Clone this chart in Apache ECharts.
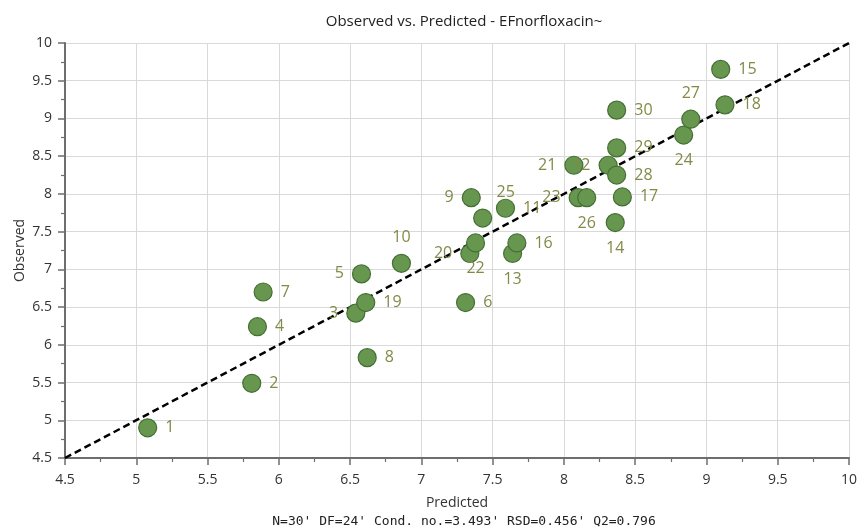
<!DOCTYPE html>
<html><head><meta charset="utf-8">
<script src="https://cdn.jsdelivr.net/npm/echarts@6/dist/echarts.min.js"></script>
<style>html,body{margin:0;padding:0;background:#fff}#c{width:857px;height:530px}</style>
</head><body><div id="c"></div>
<script>
// Data
const ids = ['1','2','3','4','5','6','7','8','9','10','11','12','13','14','15','16','17','18','19','20','21','22','23','24','25','26','27','28','29','30'];
const predicted = [5.08,5.81,6.54,5.85,6.58,7.31,5.89,6.62,7.35,6.86,7.59,8.31,7.64,8.36,9.10,7.67,8.41,9.13,6.61,7.34,8.07,7.38,8.10,8.84,7.43,8.16,8.89,8.37,8.37,8.37];
const observed  = [4.90,5.49,6.42,6.24,6.94,6.56,6.70,5.83,7.95,7.08,7.81,8.38,7.21,7.62,9.65,7.35,7.96,9.18,6.56,7.21,8.38,7.35,7.95,8.78,7.68,7.95,8.99,8.25,8.61,9.11];
const xTicks = [4.5, 10, 0.5];
const yTicks = [4.5, 10, 0.5];
const titleText = 'Observed vs. Predicted - EFnorfloxacin~';
const footerText = "N=30' DF=24' Cond. no.=3.493' RSD=0.456' Q2=0.796";

// Style: label placement per point
const labelPlace = ['right','right','left','right','left','right','right','right','left','top',
                    'right','left','bottom','bottom','right','right','right','right','right','left',
                    'left','bottom','left','bottom','topright','bottom','top','right','right','right'];

const pts = ids.map((id, i) => {
  let p = labelPlace[i];
  const lab = {position: p === 'topright' ? 'top' : p};
  if (p === 'topright') lab.offset = [23, 0];
  return {name: id, value: [predicted[i], observed[i]], label: lab};
});

const chart = echarts.init(document.getElementById('c'));
const axisCommon = {
  type: 'value',
  axisLine: {show: true, onZero: false, lineStyle: {color: '#6e6e6e', width: 2}},
  axisTick: {show: true, length: 7, lineStyle: {color: '#6e6e6e', width: 1.5}},
  minorTick: {show: true, splitNumber: 2, length: 4, lineStyle: {color: '#6e6e6e', width: 1.2}},
  splitLine: {show: true, lineStyle: {color: '#d9d9d9', width: 1}},
  nameTextStyle: {color: '#333', fontSize: 14, fontFamily: 'Open Sans'},
  nameLocation: 'middle',
  nameMoveOverlap: false
};
chart.setOption({
  animation: false,
  backgroundColor: '#fff',
  title: [
    {text: titleText, left: 459, top: 9, textAlign: 'center',
     textStyle: {fontSize: 15, fontWeight: 'normal', color: '#222', fontFamily: 'Open Sans'}},
    {text: footerText, left: 459, top: 510, textAlign: 'center',
     textStyle: {fontSize: 13, fontWeight: 'normal', color: '#222', fontFamily: 'DejaVu Sans Mono'}}
  ],
  grid: {left: 65, right: 8, top: 43, bottom: 72, containLabel: false, outerBoundsMode: 'none'},
  xAxis: Object.assign({}, axisCommon, {min: xTicks[0], max: xTicks[1], interval: xTicks[2], name: 'Predicted', nameGap: 38,
    axisLabel: {color: '#333', fontSize: 14, fontFamily: 'Open Sans', margin: 15}}),
  yAxis: Object.assign({}, axisCommon, {min: yTicks[0], max: yTicks[1], interval: yTicks[2], name: 'Observed', nameGap: 38,
    axisLabel: {color: '#333', fontSize: 14, fontFamily: 'Open Sans', margin: 13}}),
  series: [
    {
      type: 'line',
      data: [[xTicks[0], yTicks[0]], [xTicks[1], yTicks[1]]],
      symbol: 'none',
      lineStyle: {color: '#000', width: 2.5, type: [7, 4]},
      z: 3, silent: true
    },
    {
      type: 'scatter',
      data: pts,
      symbolSize: 18,
      itemStyle: {color: '#67974f', borderColor: '#456f35', borderWidth: 1.2, opacity: 1},
      label: {show: true, formatter: '{b}', distance: 8, color: '#838a47', fontSize: 16, fontFamily: 'Open Sans'},
      z: 4
    }
  ]
});
</script></body></html>
